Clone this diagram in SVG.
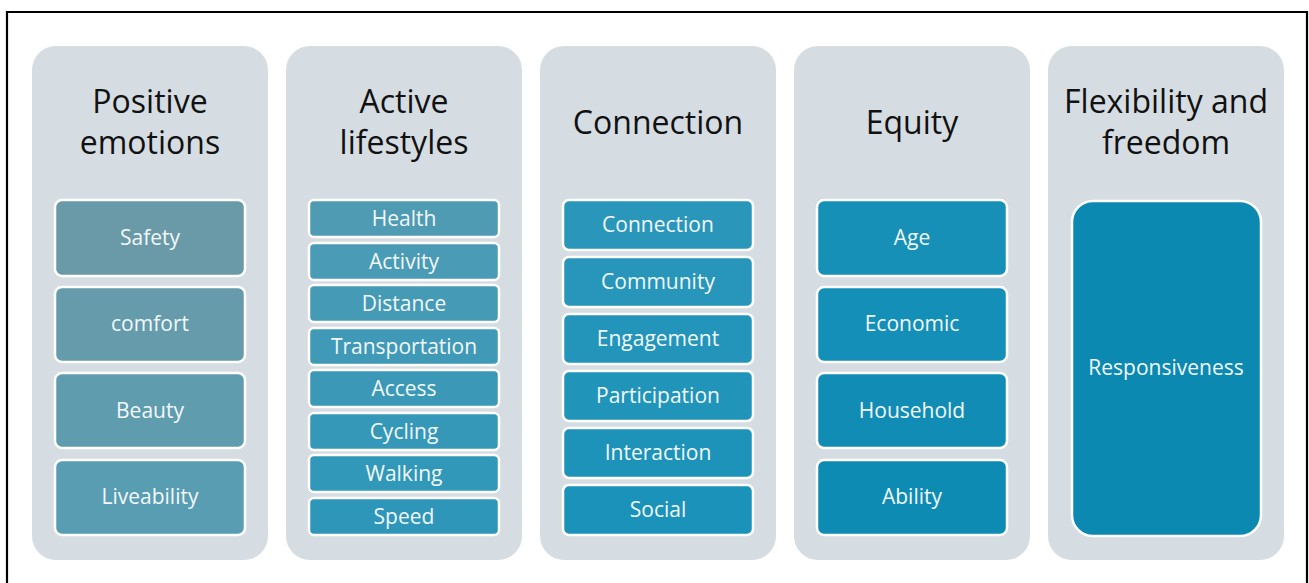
<svg xmlns="http://www.w3.org/2000/svg" width="1309" height="583" viewBox="0 0 1309 583">
<style>
.col{fill:#d5dde2}
.title{font-family:"Open Sans","Liberation Sans",sans-serif;font-size:32px;fill:#111;text-anchor:middle}
.item{stroke:#fff;stroke-width:2.5}
.lbl{font-family:"Open Sans","Liberation Sans",sans-serif;font-size:21px;fill:#f2f8fa;text-anchor:middle}
</style>
<rect width="1309" height="583" fill="#fff"/>
<path d="M7,583 V12 H1307 V583" fill="none" stroke="#000" stroke-width="2.2"/>
<g id="connectors"></g>

<g id="col-positive-emotions">
<rect class="col" x="32" y="46" width="236" height="514" rx="24"/>
<text class="title" x="150" y="113">Positive</text>
<text class="title" x="150" y="154">emotions</text>
<g id="n-safety"><rect class="item" x="55" y="200" width="190" height="76" rx="7" fill="#6a9aa8"/><text class="lbl" x="150" y="245">Safety</text></g>
<g id="n-comfort"><rect class="item" x="55" y="287" width="190" height="75" rx="7" fill="#659bab"/><text class="lbl" x="150" y="331">comfort</text></g>
<g id="n-beauty"><rect class="item" x="55" y="373" width="190" height="75" rx="7" fill="#5f9cae"/><text class="lbl" x="150" y="418">Beauty</text></g>
<g id="n-liveability"><rect class="item" x="55" y="460" width="190" height="75" rx="7" fill="#599db2"/><text class="lbl" x="150" y="504">Liveability</text></g>
</g>

<g id="col-active-lifestyles">
<rect class="col" x="286" y="46" width="236" height="514" rx="24"/>
<text class="title" x="404" y="113">Active</text>
<text class="title" x="404" y="154">lifestyles</text>
<g id="n-health"><rect class="item" x="309" y="200" width="190" height="37" rx="5" fill="#4f9bb4"/><text class="lbl" x="404" y="226">Health</text></g>
<g id="n-activity"><rect class="item" x="309" y="243" width="190" height="37" rx="5" fill="#4a9bb5"/><text class="lbl" x="404" y="269">Activity</text></g>
<g id="n-distance"><rect class="item" x="309" y="285" width="190" height="37" rx="5" fill="#459ab6"/><text class="lbl" x="404" y="311">Distance</text></g>
<g id="n-transportation"><rect class="item" x="309" y="328" width="190" height="37" rx="5" fill="#409ab7"/><text class="lbl" x="404" y="354">Transportation</text></g>
<g id="n-access"><rect class="item" x="309" y="370" width="190" height="37" rx="5" fill="#3b99b7"/><text class="lbl" x="404" y="396">Access</text></g>
<g id="n-cycling"><rect class="item" x="309" y="413" width="190" height="37" rx="5" fill="#3698b8"/><text class="lbl" x="404" y="439">Cycling</text></g>
<g id="n-walking"><rect class="item" x="309" y="455" width="190" height="37" rx="5" fill="#3298b9"/><text class="lbl" x="404" y="481">Walking</text></g>
<g id="n-speed"><rect class="item" x="309" y="498" width="190" height="37" rx="5" fill="#2e97b9"/><text class="lbl" x="404" y="524">Speed</text></g>
</g>

<g id="col-connection">
<rect class="col" x="540" y="46" width="236" height="514" rx="24"/>
<text class="title" x="658" y="134">Connection</text>
<g id="n-connection"><rect class="item" x="563" y="200" width="190" height="50" rx="6" fill="#2a97ba"/><text class="lbl" x="658" y="232">Connection</text></g>
<g id="n-community"><rect class="item" x="563" y="257" width="190" height="50" rx="6" fill="#2796ba"/><text class="lbl" x="658" y="289">Community</text></g>
<g id="n-engagement"><rect class="item" x="563" y="314" width="190" height="50" rx="6" fill="#2495ba"/><text class="lbl" x="658" y="346">Engagement</text></g>
<g id="n-participation"><rect class="item" x="563" y="371" width="190" height="50" rx="6" fill="#2194ba"/><text class="lbl" x="658" y="403">Participation</text></g>
<g id="n-interaction"><rect class="item" x="563" y="428" width="190" height="50" rx="6" fill="#1e93b9"/><text class="lbl" x="658" y="460">Interaction</text></g>
<g id="n-social"><rect class="item" x="563" y="485" width="190" height="50" rx="6" fill="#1b92b9"/><text class="lbl" x="658" y="517">Social</text></g>
</g>

<g id="col-equity">
<rect class="col" x="794" y="46" width="236" height="514" rx="24"/>
<text class="title" x="912" y="134">Equity</text>
<g id="n-age"><rect class="item" x="817" y="200" width="190" height="76" rx="7" fill="#1790b8"/><text class="lbl" x="912" y="245">Age</text></g>
<g id="n-economic"><rect class="item" x="817" y="287" width="190" height="75" rx="7" fill="#148fb7"/><text class="lbl" x="912" y="331">Economic</text></g>
<g id="n-household"><rect class="item" x="817" y="373" width="190" height="75" rx="7" fill="#118db5"/><text class="lbl" x="912" y="418">Household</text></g>
<g id="n-ability"><rect class="item" x="817" y="460" width="190" height="75" rx="7" fill="#0e8bb3"/><text class="lbl" x="912" y="504">Ability</text></g>
</g>

<g id="col-flexibility">
<rect class="col" x="1048" y="46" width="236" height="514" rx="24"/>
<text class="title" x="1166" y="113">Flexibility and</text>
<text class="title" x="1166" y="154">freedom</text>
<g id="n-responsiveness"><rect class="item" x="1072" y="201" width="189" height="335" rx="21" fill="#0b89b1"/><text class="lbl" x="1166" y="375">Responsiveness</text></g>
</g>
</svg>
